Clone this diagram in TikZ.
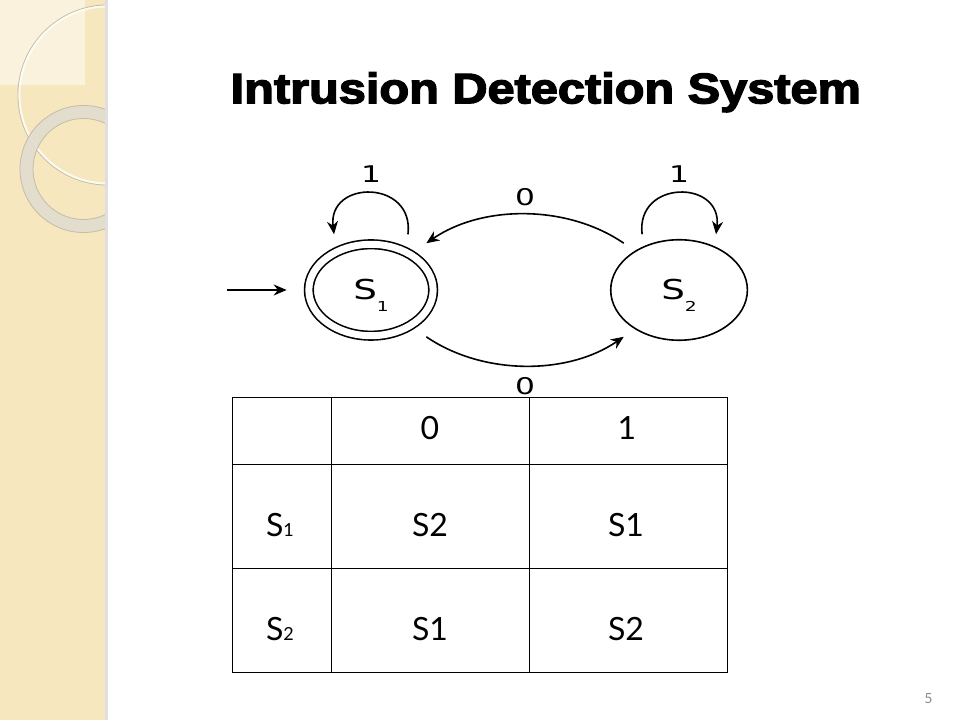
\documentclass[tikz,border=0pt]{standalone}
\usepackage{fontspec}
\setmainfont{Lato}
\newfontfamily\titlefont{Liberation Sans Bold}
\newfontfamily\dejavu{DejaVu Sans}
\usetikzlibrary{automata,positioning,arrows.meta}

\definecolor{stripbeige}{RGB}{246,231,190}
\definecolor{stripsquare}{RGB}{250,242,220}
\definecolor{ringgray}{RGB}{226,221,208}
\definecolor{ringedge}{RGB}{196,188,168}
\definecolor{pagegray}{RGB}{140,140,140}

\newcommand{\stsub}[1]{\raisebox{-11.3pt}[0pt][0pt]{\fontsize{13.7}{14}\selectfont #1}}
\newcommand{\tabsub}[1]{{\fontsize{18}{18}\selectfont #1}}
\newcommand{\heavytext}[1]{\special{pdf:literal direct 2 Tr 1.3 w}#1\special{pdf:literal direct 0 Tr}}

\begin{document}
\begin{tikzpicture}[%
x=1pt, y=1pt,
>={Stealth[length=13pt,width=11pt]},
every state/.style={draw, circle, line width=1.6pt, inner sep=0pt,
  minimum size=100.5pt, outer sep=11.75pt,
  font=\dejavu\fontsize{27.4}{30}\selectfont},
accepting/.style={double, double distance=7pt, minimum size=91.4pt, outer sep=16.3pt},
arclabel/.style={font=\dejavu\fontsize{23}{25}\selectfont},
cell/.style={font=\fontsize{32}{34}\selectfont, anchor=base},
gridline/.style={line width=1.2pt}
]

\useasboundingbox (0,0) rectangle (960,720);
\fill[white] (0,0) rectangle (960,720);

% side strip
\begin{scope}
\clip (0,0) rectangle (105,720);
\fill[stripbeige] (0,0) rectangle (105,720);
\fill[stripsquare] (0,635) rectangle (85,720);
\draw[ringedge, line width=1pt] (108,625) circle[radius=90];
\draw[white, line width=2pt, opacity=.8] (108,625) circle[radius=88.6];
\fill[ringgray, opacity=.9, even odd rule] (83.5,551) circle[radius=63.5] (83.5,551) circle[radius=50.5];
\draw[ringedge, line width=.8pt] (83.5,551) circle[radius=63.5] (83.5,551) circle[radius=50.5];
\end{scope}
\fill[gray!25] (105,0) rectangle (107.5,720);

\node[font=\titlefont\fontsize{42.7}{46}\selectfont, anchor=base, xscale=1.14]
  (title) at (545.8,616.7) {\heavytext{Intrusion Detection System}};

% automaton
\begin{scope}[shift={(371,430)}, xscale=1.36, transform shape, node distance=226.5pt, on grid]
\node[state, accepting] (s1) {S\stsub{1}};
\node[state] (s2) [right=of s1] {S\stsub{2}};
\coordinate[left=44pt of s1.west] (entry);

\draw[->, line width=1.6pt] (entry) -- (s1.west);
\path[->, line width=1.6pt] (s1.64) edge[out=85, in=95, looseness=2.6] node[arclabel, above=6pt] {1} (s1.116);
\path[->, line width=1.6pt] (s2.116) edge[out=95, in=85, looseness=2.6] node[arclabel, above=6pt] {1} (s2.64);
\path[->, line width=1.6pt] (s2.131) edge[bend right=43] node[arclabel, above=4.6pt] {0} (s1.49);
\path[->, line width=1.6pt] (s1.-49) edge[bend right=43] node[arclabel, below=7.5pt] {0} (s2.229);
\end{scope}

% transition table
\draw[gridline] (232.7,47.3) rectangle (727.7,322.7);
\foreach \y in {255.7,151.7} \draw[gridline] (232.7,\y) -- (727.7,\y);
\foreach \x in {331.3,529.3} \draw[gridline] (\x,47.3) -- (\x,322.7);

\node[cell] (in0) at (430,280) {0};
\node[cell] (in1) at (627,280) {1};
\node[cell] (row1) at (280,183) {S\tabsub{1}};
\node[cell] (row1a) at (430,183) {S2};
\node[cell] (row1b) at (626,183) {S1};
\node[cell] (row2) at (280,79.3) {S\tabsub{2}};
\node[cell] (row2a) at (430,79.3) {S1};
\node[cell] (row2b) at (626,79.3) {S2};

\node[font=\fontsize{14}{14}\selectfont, text=pagegray, anchor=base] (pageno) at (928.4,17) {5};

\end{tikzpicture}
\end{document}
